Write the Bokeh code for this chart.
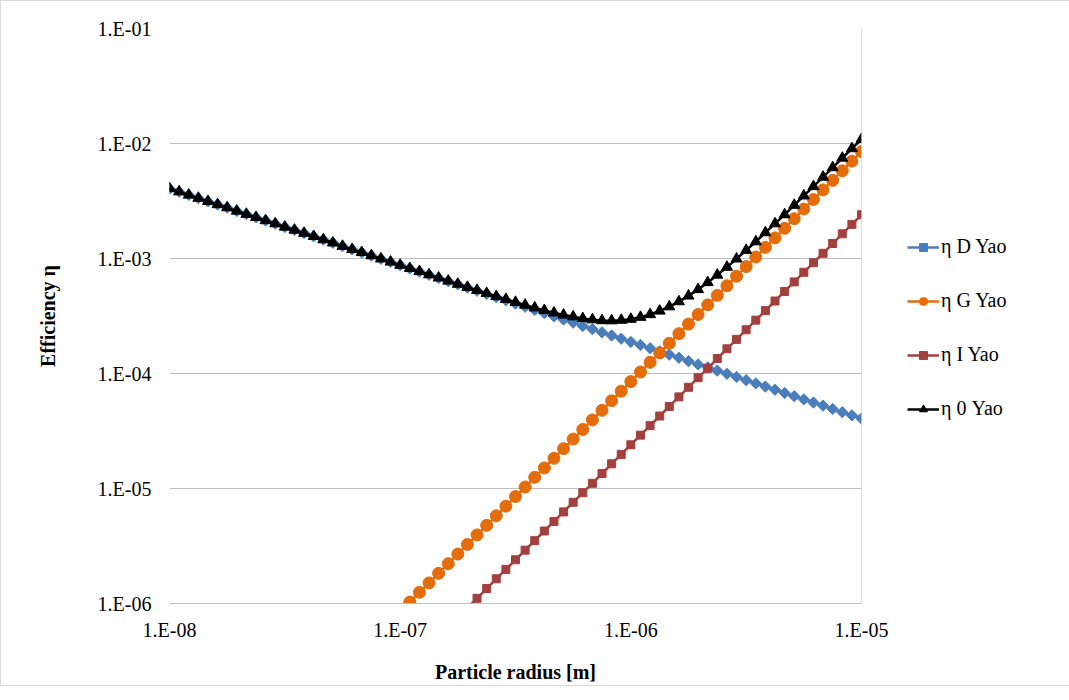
from bokeh.plotting import figure
from bokeh.models import (Range1d, FixedTicker, CustomJSTickFormatter, Legend, LegendItem,
                          Span, ColumnDataSource)
from bokeh.embed import file_html
from bokeh.resources import INLINE
import math

# ---- data ----
radius = [
    1.000e-8, 1.101e-8, 1.212e-8, 1.334e-8, 1.468e-8, 1.616e-8, 1.778e-8, 1.957e-8,
    2.154e-8, 2.371e-8, 2.610e-8, 2.873e-8, 3.162e-8, 3.481e-8, 3.831e-8, 4.217e-8,
    4.642e-8, 5.109e-8, 5.623e-8, 6.190e-8, 6.813e-8, 7.499e-8, 8.254e-8, 9.086e-8,
    1.000e-7, 1.101e-7, 1.212e-7, 1.334e-7, 1.468e-7, 1.616e-7, 1.778e-7, 1.957e-7,
    2.154e-7, 2.371e-7, 2.610e-7, 2.873e-7, 3.162e-7, 3.481e-7, 3.831e-7, 4.217e-7,
    4.642e-7, 5.109e-7, 5.623e-7, 6.190e-7, 6.813e-7, 7.499e-7, 8.254e-7, 9.086e-7,
    1.000e-6, 1.101e-6, 1.212e-6, 1.334e-6, 1.468e-6, 1.616e-6, 1.778e-6, 1.957e-6,
    2.154e-6, 2.371e-6, 2.610e-6, 2.873e-6, 3.162e-6, 3.481e-6, 3.831e-6, 4.217e-6,
    4.642e-6, 5.109e-6, 5.623e-6, 6.190e-6, 6.813e-6, 7.499e-6, 8.254e-6, 9.086e-6,
    1.000e-5,
]

eta_D = [
    4.06e-3, 3.81e-3, 3.57e-3, 3.35e-3, 3.14e-3, 2.95e-3, 2.77e-3, 2.59e-3,
    2.43e-3, 2.28e-3, 2.14e-3, 2.01e-3, 1.88e-3, 1.77e-3, 1.66e-3, 1.56e-3,
    1.46e-3, 1.37e-3, 1.28e-3, 1.20e-3, 1.13e-3, 1.06e-3, 9.94e-4, 9.33e-4,
    8.75e-4, 8.20e-4, 7.70e-4, 7.22e-4, 6.77e-4, 6.35e-4, 5.96e-4, 5.59e-4,
    5.25e-4, 4.92e-4, 4.61e-4, 4.33e-4, 4.06e-4, 3.81e-4, 3.57e-4, 3.35e-4,
    3.14e-4, 2.95e-4, 2.77e-4, 2.59e-4, 2.43e-4, 2.28e-4, 2.14e-4, 2.01e-4,
    1.88e-4, 1.77e-4, 1.66e-4, 1.56e-4, 1.46e-4, 1.37e-4, 1.28e-4, 1.20e-4,
    1.13e-4, 1.06e-4, 9.94e-5, 9.33e-5, 8.75e-5, 8.20e-5, 7.70e-5, 7.22e-5,
    6.77e-5, 6.35e-5, 5.96e-5, 5.59e-5, 5.25e-5, 4.92e-5, 4.61e-5, 4.33e-5,
    4.06e-5,
]

eta_G = [
    8.50e-9, 1.03e-8, 1.25e-8, 1.51e-8, 1.83e-8, 2.22e-8, 2.69e-8, 3.26e-8,
    3.95e-8, 4.78e-8, 5.79e-8, 7.02e-8, 8.50e-8, 1.03e-7, 1.25e-7, 1.51e-7,
    1.83e-7, 2.22e-7, 2.69e-7, 3.26e-7, 3.95e-7, 4.78e-7, 5.79e-7, 7.02e-7,
    8.50e-7, 1.03e-6, 1.25e-6, 1.51e-6, 1.83e-6, 2.22e-6, 2.69e-6, 3.26e-6,
    3.95e-6, 4.78e-6, 5.79e-6, 7.02e-6, 8.50e-6, 1.03e-5, 1.25e-5, 1.51e-5,
    1.83e-5, 2.22e-5, 2.69e-5, 3.26e-5, 3.95e-5, 4.78e-5, 5.79e-5, 7.02e-5,
    8.50e-5, 1.03e-4, 1.25e-4, 1.51e-4, 1.83e-4, 2.22e-4, 2.69e-4, 3.26e-4,
    3.95e-4, 4.78e-4, 5.79e-4, 7.02e-4, 8.50e-4, 1.03e-3, 1.25e-3, 1.51e-3,
    1.83e-3, 2.22e-3, 2.69e-3, 3.26e-3, 3.95e-3, 4.78e-3, 5.79e-3, 7.02e-3,
    8.50e-3,
]

eta_I = [
    2.40e-9, 2.91e-9, 3.52e-9, 4.27e-9, 5.17e-9, 6.26e-9, 7.59e-9, 9.19e-9,
    1.11e-8, 1.35e-8, 1.64e-8, 1.98e-8, 2.40e-8, 2.91e-8, 3.52e-8, 4.27e-8,
    5.17e-8, 6.26e-8, 7.59e-8, 9.19e-8, 1.11e-7, 1.35e-7, 1.64e-7, 1.98e-7,
    2.40e-7, 2.91e-7, 3.52e-7, 4.27e-7, 5.17e-7, 6.26e-7, 7.59e-7, 9.19e-7,
    1.11e-6, 1.35e-6, 1.64e-6, 1.98e-6, 2.40e-6, 2.91e-6, 3.52e-6, 4.27e-6,
    5.17e-6, 6.26e-6, 7.59e-6, 9.19e-6, 1.11e-5, 1.35e-5, 1.64e-5, 1.98e-5,
    2.40e-5, 2.91e-5, 3.52e-5, 4.27e-5, 5.17e-5, 6.26e-5, 7.59e-5, 9.19e-5,
    1.11e-4, 1.35e-4, 1.64e-4, 1.98e-4, 2.40e-4, 2.91e-4, 3.52e-4, 4.27e-4,
    5.17e-4, 6.26e-4, 7.59e-4, 9.19e-4, 1.11e-3, 1.35e-3, 1.64e-3, 1.98e-3,
    2.40e-3,
]

eta_0 = [
    4.06e-3, 3.81e-3, 3.57e-3, 3.35e-3, 3.14e-3, 2.95e-3, 2.77e-3, 2.59e-3,
    2.43e-3, 2.28e-3, 2.14e-3, 2.01e-3, 1.88e-3, 1.77e-3, 1.66e-3, 1.56e-3,
    1.46e-3, 1.37e-3, 1.28e-3, 1.20e-3, 1.13e-3, 1.06e-3, 9.95e-4, 9.34e-4,
    8.76e-4, 8.21e-4, 7.72e-4, 7.24e-4, 6.79e-4, 6.38e-4, 5.99e-4, 5.63e-4,
    5.30e-4, 4.98e-4, 4.68e-4, 4.42e-4, 4.17e-4, 3.94e-4, 3.73e-4, 3.54e-4,
    3.37e-4, 3.23e-4, 3.12e-4, 3.01e-4, 2.94e-4, 2.89e-4, 2.88e-4, 2.91e-4,
    2.97e-4, 3.09e-4, 3.26e-4, 3.50e-4, 3.81e-4, 4.22e-4, 4.73e-4, 5.38e-4,
    6.19e-4, 7.19e-4, 8.42e-4, 9.93e-4, 1.18e-3, 1.40e-3, 1.68e-3, 2.01e-3,
    2.41e-3, 2.91e-3, 3.51e-3, 4.23e-3, 5.11e-3, 6.18e-3, 7.48e-3, 9.04e-3,
    1.09e-2,
]

series_names = ["η D Yao", "η G Yao", "η I Yao", "η 0 Yao"]
series_values = [eta_D, eta_G, eta_I, eta_0]

x_ticks = [1e-8, 1e-7, 1e-6, 1e-5]
x_tick_labels = ["1.E-08", "1.E-07", "1.E-06", "1.E-05"]
y_ticks = [1e-6, 1e-5, 1e-4, 1e-3, 1e-2, 1e-1]
y_tick_labels = ["1.E-06", "1.E-05", "1.E-04", "1.E-03", "1.E-02", "1.E-01"]

x_title = "Particle radius [m]"
y_title = "Efficiency η"

# ---- styles ----
colors = ["#4A7EBB", "#E46C0A", "#A3403D", "#000000"]
markers = ["square", "circle", "square", "triangle"]
angles = [math.pi / 4, 0, 0, 0]
sizes = [8, 12, 8, 11]
SERIF = "Liberation Serif"
GRID = "#BFBFBF"

p = figure(frame_width=692, frame_height=575, x_axis_type="log", y_axis_type="log",
           x_range=Range1d(x_ticks[0], x_ticks[-1]), y_range=Range1d(y_ticks[0], y_ticks[-1]),
           output_backend="svg", toolbar_location=None,
           min_border_left=168, min_border_right=193, min_border_top=27, min_border_bottom=82,
           styles={"border": "1px solid #D9D9D9"})
p.outline_line_color = None
p.background_fill_color = "white"
p.border_fill_color = "white"

fmt_code = """
let best = 0, bd = Infinity;
for (let i = 0; i < vals.length; i++) {
  const d = Math.abs(Math.log10(vals[i]) - Math.log10(tick));
  if (d < bd) { bd = d; best = i; }
}
return labs[best];
"""

p.xaxis.ticker = FixedTicker(ticks=x_ticks, minor_ticks=[])
p.xaxis.formatter = CustomJSTickFormatter(args=dict(vals=x_ticks, labs=x_tick_labels), code=fmt_code)
p.yaxis.ticker = FixedTicker(ticks=y_ticks, minor_ticks=[])
p.yaxis.formatter = CustomJSTickFormatter(args=dict(vals=y_ticks, labs=y_tick_labels), code=fmt_code)

for ax in (p.xaxis[0], p.yaxis[0]):
    ax.major_tick_line_color = None
    ax.minor_tick_line_color = None
    ax.major_tick_out = 0
    ax.major_tick_in = 0
    ax.major_label_text_font = SERIF
    ax.major_label_text_font_size = "20px"
    ax.major_label_text_color = "black"
    ax.axis_label_text_font = SERIF
    ax.axis_label_text_font_size = "20px"
    ax.axis_label_text_font_style = "bold"
    ax.axis_label_text_color = "black"

p.xaxis.axis_label = x_title
p.yaxis.axis_label = y_title
p.xaxis.axis_line_color = GRID
p.yaxis.axis_line_color = None
p.xaxis.major_label_standoff = 15
p.yaxis.major_label_standoff = 18
p.xaxis.axis_label_standoff = 17
p.yaxis.axis_label_standoff = 36

p.xgrid.visible = False
p.ygrid.ticker = FixedTicker(ticks=y_ticks, minor_ticks=[])
p.ygrid.grid_line_color = GRID
p.ygrid.grid_line_width = 1

p.add_layout(Span(location=x_ticks[-1], dimension="height", line_color=GRID, line_width=1))

items = []
for name, vals, c, m, a, s in zip(series_names, series_values, colors, markers, angles, sizes):
    src = ColumnDataSource(dict(x=radius, y=vals))
    r1 = p.line("x", "y", source=src, line_color=c, line_width=2.5)
    r2 = p.scatter("x", "y", source=src, marker=m, size=s, angle=a,
                   fill_color=c, line_color=c)
    items.append(LegendItem(label=name, renderers=[r1, r2]))

legend = Legend(items=items, location=(46, 183), orientation="vertical",
                padding=0, margin=0, spacing=31, glyph_width=32, glyph_height=20,
                label_height=20, label_standoff=2,
                label_text_font=SERIF, label_text_font_size="20px", label_text_color="black",
                border_line_color=None, background_fill_alpha=0)
p.add_layout(legend, "right")

open("out.html", "w").write(file_html(p, INLINE))
